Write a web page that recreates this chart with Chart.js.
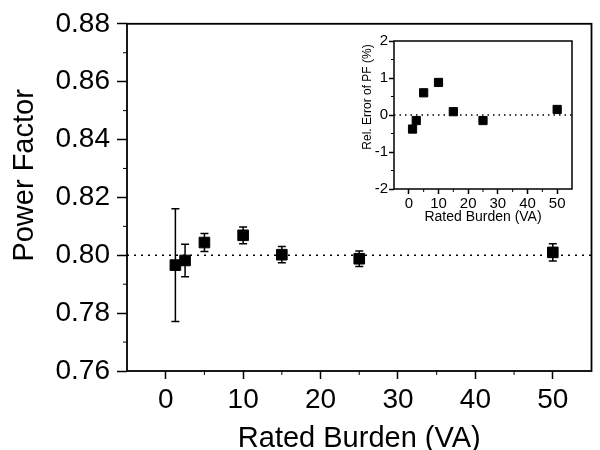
<!DOCTYPE html>
<html lang="en">
<head>
<meta charset="UTF-8">
<title>Power Factor vs Rated Burden</title>
<style>
  body { margin: 0; background: #fff; }
  #wrap { position: relative; width: 600px; height: 450px; }
  #mainChart { position: absolute; left: 0; top: 0; }
  #insetChart { position: absolute; left: 340px; top: 25px; }
</style>
</head>
<body>
<div id="wrap">
  <canvas id="mainChart" width="600" height="450"></canvas>
  <canvas id="insetChart" width="240" height="210"></canvas>
</div>

<script src="https://cdn.jsdelivr.net/npm/chart.js"></script>
<script>
// data
const burden = [1.25, 2.5, 5, 10, 15, 25, 50];
const powerFactor = [0.7966, 0.7982, 0.8044, 0.8069, 0.8002, 0.7988, 0.8010];
const pfError = [0.0195, 0.0056, 0.0031, 0.0029, 0.0028, 0.0027, 0.0030];
const relError = [-0.38, -0.15, 0.60, 0.88, 0.09, -0.15, 0.15];
const nominalPF = 0.80;

const xRange = [-5, 55];
const xTicks = [0, 10, 20, 30, 40, 50];
const pfTicks = [0.76, 0.78, 0.80, 0.82, 0.84, 0.86, 0.88];
const relTicks = [-2, -1, 0, 1, 2];

const FONT = "'Liberation Sans', Arial, Helvetica, sans-serif";

function setTicks(values) {
    return scale => { scale.ticks = values.map(v => ({ value: v })); };
}

// black frame around the plot area + short minor ticks halfway between majors
const framePlugin = {
    id: 'frame',
    afterDatasetsDraw(chart, args, opts) {
        const { ctx, chartArea: a, scales: { x, y } } = chart;
        ctx.save();
        ctx.strokeStyle = '#000';
        ctx.lineWidth = opts.lineWidth || 1.5;
        ctx.strokeRect(a.left, a.top, a.right - a.left, a.bottom - a.top);

        ctx.lineWidth = 1;
        ctx.beginPath();
        for (let i = 0; i < x.ticks.length - 1; i++) {
            const px = x.getPixelForValue((x.ticks[i].value + x.ticks[i + 1].value) / 2);
            ctx.moveTo(px, a.bottom);
            ctx.lineTo(px, a.bottom + opts.minor);
        }
        for (let i = 0; i < y.ticks.length - 1; i++) {
            const py = y.getPixelForValue((y.ticks[i].value + y.ticks[i + 1].value) / 2);
            ctx.moveTo(a.left, py);
            ctx.lineTo(a.left - opts.minor, py);
        }
        ctx.stroke();

        // y axis title, sitting a bit above the middle like in the original
        if (opts.yTitle) {
            const t = opts.yTitle;
            ctx.fillStyle = '#000';
            ctx.font = t.size + 'px ' + FONT;
            ctx.textAlign = 'center';
            ctx.textBaseline = 'middle';
            ctx.translate(t.x, (a.top + a.bottom) / 2 + t.shift);
            ctx.rotate(-Math.PI / 2);
            ctx.fillText(t.text, 0, 0);
        }
        ctx.restore();
    }
};

// vertical error bars with caps
const errorBarPlugin = {
    id: 'errorBars',
    beforeDatasetsDraw(chart, args, opts) {
        if (!opts.errors) return;
        const { ctx, scales: { x, y } } = chart;
        const pts = chart.data.datasets[0].data;
        ctx.save();
        ctx.strokeStyle = '#000';
        ctx.lineWidth = 1.5;
        ctx.beginPath();
        pts.forEach((p, i) => {
            const px = x.getPixelForValue(p.x);
            const top = y.getPixelForValue(p.y + opts.errors[i]);
            const bot = y.getPixelForValue(p.y - opts.errors[i]);
            ctx.moveTo(px, top); ctx.lineTo(px, bot);
            ctx.moveTo(px - opts.cap, top); ctx.lineTo(px + opts.cap, top);
            ctx.moveTo(px - opts.cap, bot); ctx.lineTo(px + opts.cap, bot);
        });
        ctx.stroke();
        ctx.restore();
    }
};

function axis(cfg) {
    return {
        type: 'linear',
        min: cfg.min,
        max: cfg.max,
        afterBuildTicks: setTicks(cfg.ticks),
        afterFit: cfg.fit,
        border: { display: false },
        grid: { drawOnChartArea: false, tickLength: cfg.tickLength, tickColor: '#000', tickWidth: 1.5 },
        ticks: {
            color: '#000',
            padding: cfg.pad,
            maxRotation: 0,
            autoSkip: false,
            font: { family: FONT, size: cfg.tickSize },
            callback: cfg.format
        },
        title: {
            display: !!cfg.title,
            text: cfg.title,
            color: '#000',
            font: { family: FONT, size: cfg.titleSize, lineHeight: 1 },
            padding: cfg.titlePad
        }
    };
}

function renderMain() {
    new Chart(document.getElementById('mainChart'), {
        type: 'scatter',
        data: {
            datasets: [{
                data: burden.map((b, i) => ({ x: b, y: powerFactor[i] })),
                pointStyle: 'rect',
                pointRadius: 7.5,
                backgroundColor: '#000',
                borderColor: '#000',
                order: 1
            }, {
                type: 'line',
                data: xRange.map(v => ({ x: v, y: nominalPF })),
                borderColor: '#000',
                borderWidth: 1.5,
                borderDash: [2, 5],
                pointRadius: 0,
                order: 2
            }]
        },
        options: {
            responsive: false,
            animation: false,
            layout: { padding: { top: 17, right: 2, left: 0, bottom: 0 } },
            plugins: {
                legend: { display: false },
                tooltip: { enabled: false },
                frame: { lineWidth: 1.8, minor: 4, yTitle: { text: 'Power Factor', size: 29, x: 25, shift: -22 } },
                errorBars: { errors: pfError, cap: 4 }
            },
            scales: {
                x: axis({
                    min: xRange[0], max: xRange[1], ticks: xTicks,
                    fit: s => { s.height = 79; },
                    tickLength: 8, pad: 4, tickSize: 28,
                    title: 'Rated Burden (VA)', titleSize: 29, titlePad: { top: 0, bottom: -3 }
                }),
                y: axis({
                    min: 0.76, max: 0.88, ticks: pfTicks,
                    fit: s => { s.width = 127; },
                    tickLength: 10, pad: 7, tickSize: 28,
                    format: v => v.toFixed(2)
                })
            }
        },
        plugins: [framePlugin, errorBarPlugin]
    });
}

function renderInset() {
    new Chart(document.getElementById('insetChart'), {
        type: 'scatter',
        data: {
            datasets: [{
                data: burden.map((b, i) => ({ x: b, y: relError[i] })),
                pointStyle: 'rect',
                pointRadius: 5.8,
                backgroundColor: '#000',
                borderColor: '#000',
                order: 1
            }, {
                type: 'line',
                data: xRange.map(v => ({ x: v, y: 0 })),
                borderColor: '#000',
                borderWidth: 1.4,
                borderDash: [1.5, 4],
                pointRadius: 0,
                order: 2
            }]
        },
        options: {
            responsive: false,
            animation: false,
            layout: { padding: { top: 16, right: 8, left: 0, bottom: 0 } },
            plugins: {
                legend: { display: false },
                tooltip: { enabled: false },
                frame: { lineWidth: 1.5, minor: 3, yTitle: { text: 'Rel. Error of PF (%)', size: 12, x: 28, shift: -18 } }
            },
            scales: {
                x: axis({
                    min: xRange[0], max: xRange[1], ticks: xTicks,
                    fit: s => { s.height = 46; },
                    tickLength: 5, pad: 1, tickSize: 15,
                    title: 'Rated Burden (VA)', titleSize: 14, titlePad: { top: 0, bottom: 11 }
                }),
                y: axis({
                    min: -2, max: 2, ticks: relTicks,
                    fit: s => { s.width = 54; },
                    tickLength: 5, pad: 1, tickSize: 15
                })
            }
        },
        plugins: [framePlugin, errorBarPlugin]
    });
}

window.onload = () => { renderMain(); renderInset(); };
</script>
</body>
</html>
